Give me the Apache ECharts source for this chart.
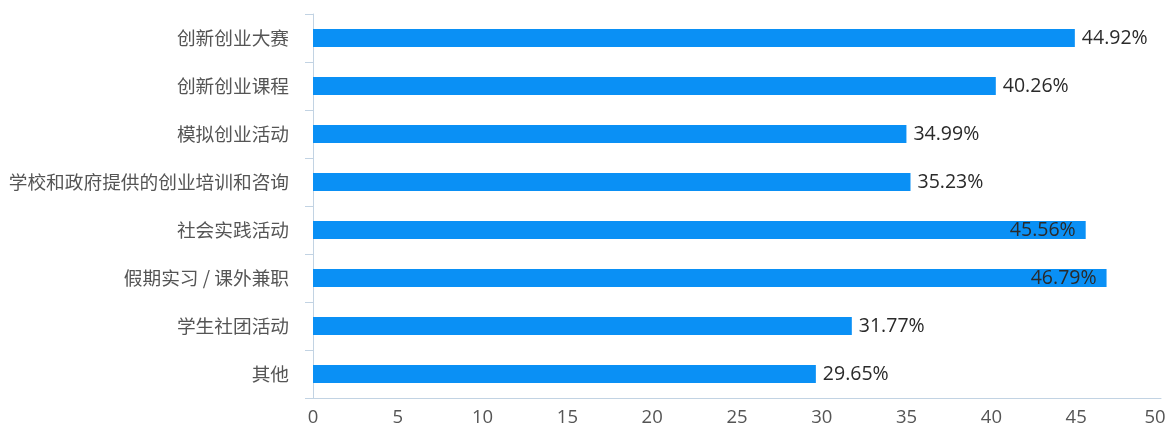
<!DOCTYPE html>
<html>
<head>
<meta charset="utf-8">
<script src="https://cdn.jsdelivr.net/npm/echarts@6/dist/echarts.min.js"></script>
<style>
html,body{margin:0;padding:0;background:#fff;}
#chart{width:1167px;height:430px;}
</style>
</head>
<body>
<div id="chart"></div>
<script>
const categories = ['创新创业大赛','创新创业课程','模拟创业活动','学校和政府提供的创业培训和咨询','社会实践活动','假期实习 / 课外兼职','学生社团活动','其他'];
const values = [44.92, 40.26, 34.99, 35.23, 45.56, 46.79, 31.77, 29.65];
const insideLabels = ['社会实践活动','假期实习 / 课外兼职'];
const xTicks = [0, 50, 5];

const chart = echarts.init(document.getElementById('chart'));
const fontFam = '"Noto Sans CJK SC","Open Sans",sans-serif';
const tickFont = {color: '#555', fontSize: 18.5, fontFamily: '"Open Sans",sans-serif'};
chart.setOption({
  animation: false,
  grid: {left: 313, right: 6, top: 14, bottom: 32, containLabel: false, outerBoundsMode: 'none'},
  xAxis: {
    type: 'value', min: xTicks[0], max: xTicks[1], interval: xTicks[2],
    axisLine: {show: true, lineStyle: {color: '#c2d3e3', width: 1}},
    axisTick: {show: false},
    splitLine: {show: false},
    axisLabel: Object.assign({}, tickFont, {
      margin: 10,
      formatter: v => v === xTicks[1] ? '{m|' + v + '}' : String(v),
      rich: {m: Object.assign({}, tickFont, {padding: [0, 12, 0, 0]})}
    })
  },
  yAxis: {
    type: 'category', data: categories, inverse: true,
    axisLine: {show: true, lineStyle: {color: '#c2d3e3', width: 1}},
    axisTick: {show: true, length: 8, lineStyle: {color: '#c2d3e3'}},
    axisLabel: {color: '#555', fontSize: 18.7, margin: 24, fontFamily: fontFam}
  },
  series: [{
    type: 'bar',
    barWidth: 18,
    itemStyle: {color: '#0a90f5'},
    data: values.map((v, i) => ({
      value: v,
      label: insideLabels.includes(categories[i]) ? {position: 'insideRight', distance: 10} : {position: 'right', distance: 7}
    })),
    label: {
      show: true, color: '#2a2a2a', fontSize: 19.5, fontFamily: '"Open Sans",sans-serif',
      formatter: p => p.value.toFixed(2) + '%'
    }
  }]
});
</script>
</body>
</html>
